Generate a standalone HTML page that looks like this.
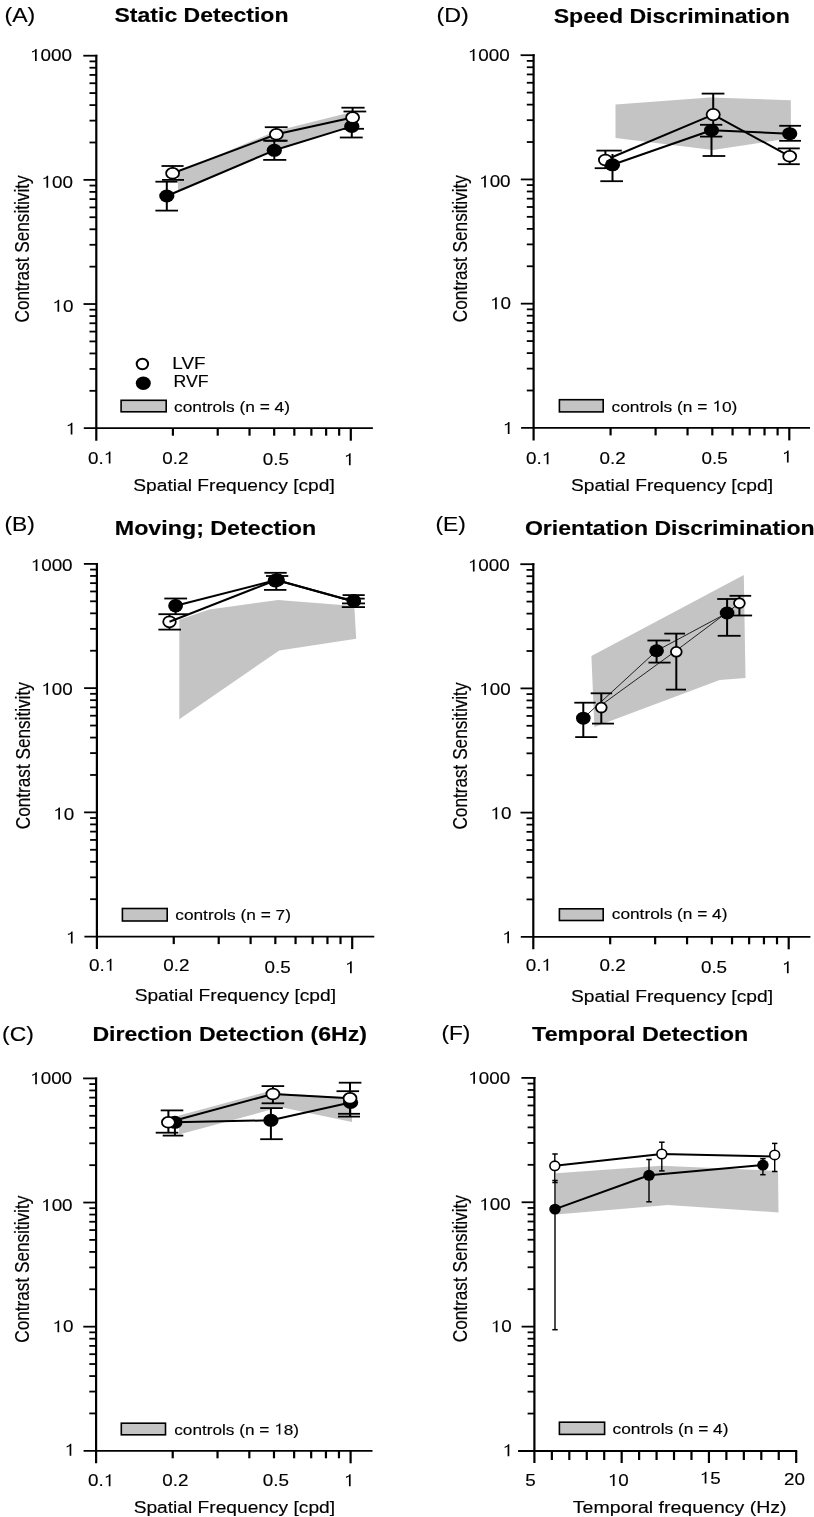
<!DOCTYPE html>
<html><head><meta charset="utf-8"><style>
html,body{margin:0;padding:0;background:#fff;}
svg{display:block;}
text{font-family:"Liberation Sans", sans-serif;fill:#000;stroke:#000;stroke-width:0.15px;}
.h{fill-opacity:0;stroke-opacity:0;}
path{fill:#000;}
svg{filter:grayscale(1);}
</style></head><body>
<svg width="814" height="1517" viewBox="0 0 814 1517">
<rect x="0" y="0" width="814" height="1517" fill="#fff"/>
<text transform="translate(4.456 21.6) scale(1.167 1)" font-size="19.8" font-weight="normal">(A)</text>
<text transform="translate(114.509 22.3) scale(1.163 1)" font-size="19.8" font-weight="bold">Static Detection</text>
<text transform="translate(29 322.424) rotate(-90) scale(1 1.15)" font-size="17.2">Contrast Sensitivity</text>
<text transform="translate(133.336 490.7) scale(1.129 1)" font-size="17" font-weight="normal">Spatial Frequency [cpd]</text>
<rect x="121.1" y="400.3" width="45.1" height="11.5" fill="#c4c4c4" stroke="#000" stroke-width="1.6"/>
<text transform="translate(174.064 411.6) scale(1.125 1)" font-size="15.4" font-weight="normal">controls (n = 4)</text>
<text transform="translate(65.682 434.6) scale(1.13 1)" font-size="16.7" font-weight="normal"><tspan class="h">1</tspan></text>
<path d="M0.356 0 L0.356 0.716 L0.297 0.716 C0.272 0.655 0.205 0.602 0.109 0.577 L0.109 0.497 C0.175 0.512 0.232 0.545 0.266 0.582 L0.266 0 Z" transform="translate(65.682 434.6) scale(18.871 -16.700)"/>
<text transform="translate(52.461 311.733) scale(1.13 1)" font-size="16.7" font-weight="normal"><tspan class="h">1</tspan>0</text>
<path d="M0.356 0 L0.356 0.716 L0.297 0.716 C0.272 0.655 0.205 0.602 0.109 0.577 L0.109 0.497 C0.175 0.512 0.232 0.545 0.266 0.582 L0.266 0 Z" transform="translate(52.461 311.733) scale(18.871 -16.700)"/>
<text transform="translate(41.44 187.667) scale(1.13 1)" font-size="16.7" font-weight="normal"><tspan class="h">1</tspan>00</text>
<path d="M0.356 0 L0.356 0.716 L0.297 0.716 C0.272 0.655 0.205 0.602 0.109 0.577 L0.109 0.497 C0.175 0.512 0.232 0.545 0.266 0.582 L0.266 0 Z" transform="translate(41.44 187.667) scale(18.871 -16.700)"/>
<text transform="translate(29.967 60.9) scale(1.13 1)" font-size="16.7" font-weight="normal"><tspan class="h">1</tspan>000</text>
<path d="M0.356 0 L0.356 0.716 L0.297 0.716 C0.272 0.655 0.205 0.602 0.109 0.577 L0.109 0.497 C0.175 0.512 0.232 0.545 0.266 0.582 L0.266 0 Z" transform="translate(29.967 60.9) scale(18.871 -16.700)"/>
<text transform="translate(87.994 463.5) scale(1.13 1)" font-size="16.7" font-weight="normal">0.<tspan class="h">1</tspan></text>
<path d="M0.356 0 L0.356 0.716 L0.297 0.716 C0.272 0.655 0.205 0.602 0.109 0.577 L0.109 0.497 C0.175 0.512 0.232 0.545 0.266 0.582 L0.266 0 Z" transform="translate(103.733 463.5) scale(18.871 -16.700)"/>
<text transform="translate(162.191 463.5) scale(1.13 1)" font-size="16.7" font-weight="normal">0.2</text>
<text transform="translate(262.873 465.2) scale(1.13 1)" font-size="16.7" font-weight="normal">0.5</text>
<text transform="translate(343.912 465.2) scale(1.13 1)" font-size="16.7" font-weight="normal"><tspan class="h">1</tspan></text>
<path d="M0.356 0 L0.356 0.716 L0.297 0.716 C0.272 0.655 0.205 0.602 0.109 0.577 L0.109 0.497 C0.175 0.512 0.232 0.545 0.266 0.582 L0.266 0 Z" transform="translate(343.912 465.2) scale(18.871 -16.700)"/>
<ellipse cx="142.4" cy="364" rx="5.7" ry="5.3" fill="#fff" stroke="#000" stroke-width="2"/>
<ellipse cx="143.3" cy="383.3" rx="7.5" ry="6.7" fill="#000"/>
<text transform="translate(172.348 368.6) scale(1.154 1)" font-size="16.3" font-weight="normal">LVF</text>
<text transform="translate(173.439 387) scale(1.087 1)" font-size="16.3" font-weight="normal">RVF</text>
<polygon points="178,172 276,131 348,113 350,126 276,149.5 178,191.5" fill="#c4c4c4" stroke="none" stroke-width="0"/>
<polyline points="172.6,173.3 276.4,134.3 352.6,117.6" fill="none" stroke="#000" stroke-width="2" stroke-linejoin="round"/>
<polyline points="166.8,196 274.3,150.3 351.8,126.4" fill="none" stroke="#000" stroke-width="2" stroke-linejoin="round"/>
<line x1="172.6" y1="166" x2="172.6" y2="179.9" stroke="#000" stroke-width="2"/>
<line x1="161.5" y1="166" x2="183.6" y2="166" stroke="#000" stroke-width="1.8"/>
<line x1="162" y1="179.9" x2="184" y2="179.9" stroke="#000" stroke-width="1.8"/>
<line x1="166.8" y1="181.7" x2="166.8" y2="210.6" stroke="#000" stroke-width="2"/>
<line x1="155.4" y1="181.7" x2="177.5" y2="181.7" stroke="#000" stroke-width="1.8"/>
<line x1="155.4" y1="210.6" x2="178" y2="210.6" stroke="#000" stroke-width="1.8"/>
<line x1="276.3" y1="127.2" x2="276.3" y2="140.7" stroke="#000" stroke-width="2"/>
<line x1="264.8" y1="127.2" x2="287.6" y2="127.2" stroke="#000" stroke-width="1.8"/>
<line x1="264.8" y1="140.7" x2="287.6" y2="140.7" stroke="#000" stroke-width="1.8"/>
<line x1="274.3" y1="140.7" x2="274.3" y2="159.9" stroke="#000" stroke-width="2"/>
<line x1="263.2" y1="140.7" x2="286.3" y2="140.7" stroke="#000" stroke-width="1.8"/>
<line x1="263.2" y1="159.9" x2="286.3" y2="159.9" stroke="#000" stroke-width="1.8"/>
<line x1="352.6" y1="107.7" x2="352.6" y2="128.8" stroke="#000" stroke-width="2"/>
<line x1="341.4" y1="107.7" x2="364.6" y2="107.7" stroke="#000" stroke-width="1.8"/>
<line x1="344" y1="128.8" x2="364" y2="128.8" stroke="#000" stroke-width="1.8"/>
<line x1="351.8" y1="111.5" x2="351.8" y2="137.5" stroke="#000" stroke-width="2"/>
<line x1="343.5" y1="111.5" x2="366.2" y2="111.5" stroke="#000" stroke-width="1.8"/>
<line x1="339.8" y1="137.5" x2="362.7" y2="137.5" stroke="#000" stroke-width="1.8"/>
<ellipse cx="166.8" cy="196" rx="7.6" ry="6.5" fill="#000"/>
<ellipse cx="274.3" cy="150.3" rx="7.6" ry="6.5" fill="#000"/>
<ellipse cx="351.8" cy="126.4" rx="7.6" ry="6.5" fill="#000"/>
<ellipse cx="172.6" cy="173.3" rx="6.5" ry="5.4" fill="#fff" stroke="#000" stroke-width="1.8"/>
<ellipse cx="276.4" cy="134.3" rx="6.5" ry="5.4" fill="#fff" stroke="#000" stroke-width="1.8"/>
<ellipse cx="352.6" cy="117.6" rx="6.5" ry="5.4" fill="#fff" stroke="#000" stroke-width="1.8"/>
<line x1="96.3" y1="54.8" x2="96.3" y2="440.7" stroke="#000" stroke-width="2.2"/>
<line x1="89.5" y1="390.822" x2="96.3" y2="390.822" stroke="#000" stroke-width="1.8"/>
<line x1="89.5" y1="368.957" x2="96.3" y2="368.957" stroke="#000" stroke-width="1.8"/>
<line x1="89.5" y1="353.444" x2="96.3" y2="353.444" stroke="#000" stroke-width="1.8"/>
<line x1="89.5" y1="341.411" x2="96.3" y2="341.411" stroke="#000" stroke-width="1.8"/>
<line x1="89.5" y1="331.58" x2="96.3" y2="331.58" stroke="#000" stroke-width="1.8"/>
<line x1="89.5" y1="323.267" x2="96.3" y2="323.267" stroke="#000" stroke-width="1.8"/>
<line x1="89.5" y1="316.066" x2="96.3" y2="316.066" stroke="#000" stroke-width="1.8"/>
<line x1="89.5" y1="309.715" x2="96.3" y2="309.715" stroke="#000" stroke-width="1.8"/>
<line x1="83.5" y1="304.033" x2="96.3" y2="304.033" stroke="#000" stroke-width="1.8"/>
<line x1="89.5" y1="266.655" x2="96.3" y2="266.655" stroke="#000" stroke-width="1.8"/>
<line x1="89.5" y1="244.791" x2="96.3" y2="244.791" stroke="#000" stroke-width="1.8"/>
<line x1="89.5" y1="229.278" x2="96.3" y2="229.278" stroke="#000" stroke-width="1.8"/>
<line x1="89.5" y1="217.245" x2="96.3" y2="217.245" stroke="#000" stroke-width="1.8"/>
<line x1="89.5" y1="207.413" x2="96.3" y2="207.413" stroke="#000" stroke-width="1.8"/>
<line x1="89.5" y1="199.1" x2="96.3" y2="199.1" stroke="#000" stroke-width="1.8"/>
<line x1="89.5" y1="191.9" x2="96.3" y2="191.9" stroke="#000" stroke-width="1.8"/>
<line x1="89.5" y1="185.548" x2="96.3" y2="185.548" stroke="#000" stroke-width="1.8"/>
<line x1="83.5" y1="179.867" x2="96.3" y2="179.867" stroke="#000" stroke-width="1.8"/>
<line x1="89.5" y1="142.489" x2="96.3" y2="142.489" stroke="#000" stroke-width="1.8"/>
<line x1="89.5" y1="120.624" x2="96.3" y2="120.624" stroke="#000" stroke-width="1.8"/>
<line x1="89.5" y1="105.111" x2="96.3" y2="105.111" stroke="#000" stroke-width="1.8"/>
<line x1="89.5" y1="93.078" x2="96.3" y2="93.078" stroke="#000" stroke-width="1.8"/>
<line x1="89.5" y1="83.246" x2="96.3" y2="83.246" stroke="#000" stroke-width="1.8"/>
<line x1="89.5" y1="74.934" x2="96.3" y2="74.934" stroke="#000" stroke-width="1.8"/>
<line x1="89.5" y1="67.733" x2="96.3" y2="67.733" stroke="#000" stroke-width="1.8"/>
<line x1="89.5" y1="61.382" x2="96.3" y2="61.382" stroke="#000" stroke-width="1.8"/>
<line x1="83.3" y1="55.7" x2="97.3" y2="55.7" stroke="#000" stroke-width="1.8"/>
<line x1="83.8" y1="428.2" x2="372.9" y2="428.2" stroke="#000" stroke-width="1.8"/>
<line x1="172.912" y1="428.2" x2="172.912" y2="435.7" stroke="#000" stroke-width="2.2"/>
<line x1="217.727" y1="428.2" x2="217.727" y2="435.7" stroke="#000" stroke-width="2.2"/>
<line x1="249.524" y1="428.2" x2="249.524" y2="435.7" stroke="#000" stroke-width="2.2"/>
<line x1="274.188" y1="428.2" x2="274.188" y2="435.7" stroke="#000" stroke-width="2.2"/>
<line x1="294.339" y1="428.2" x2="294.339" y2="435.7" stroke="#000" stroke-width="2.2"/>
<line x1="311.377" y1="428.2" x2="311.377" y2="435.7" stroke="#000" stroke-width="2.2"/>
<line x1="326.136" y1="428.2" x2="326.136" y2="435.7" stroke="#000" stroke-width="2.2"/>
<line x1="339.155" y1="428.2" x2="339.155" y2="435.7" stroke="#000" stroke-width="2.2"/>
<line x1="350.8" y1="428.2" x2="350.8" y2="440.7" stroke="#000" stroke-width="2.2"/>
<text transform="translate(4.477 531.2) scale(1.15 1)" font-size="19.8" font-weight="normal">(B)</text>
<text transform="translate(114.831 535.2) scale(1.174 1)" font-size="19.8" font-weight="bold">Moving; Detection</text>
<text transform="translate(29.5 829.274) rotate(-90) scale(1 1.15)" font-size="17.2">Contrast Sensitivity</text>
<text transform="translate(134.637 1001.4) scale(1.128 1)" font-size="17" font-weight="normal">Spatial Frequency [cpd]</text>
<rect x="122.4" y="908.5" width="44.8" height="12.5" fill="#c4c4c4" stroke="#000" stroke-width="1.6"/>
<text transform="translate(175.265 919.6) scale(1.123 1)" font-size="15.4" font-weight="normal">controls (n = 7)</text>
<text transform="translate(65.882 943.4) scale(1.13 1)" font-size="16.7" font-weight="normal"><tspan class="h">1</tspan></text>
<path d="M0.356 0 L0.356 0.716 L0.297 0.716 C0.272 0.655 0.205 0.602 0.109 0.577 L0.109 0.497 C0.175 0.512 0.232 0.545 0.266 0.582 L0.266 0 Z" transform="translate(65.882 943.4) scale(18.871 -16.700)"/>
<text transform="translate(53.261 819.567) scale(1.13 1)" font-size="16.7" font-weight="normal"><tspan class="h">1</tspan>0</text>
<path d="M0.356 0 L0.356 0.716 L0.297 0.716 C0.272 0.655 0.205 0.602 0.109 0.577 L0.109 0.497 C0.175 0.512 0.232 0.545 0.266 0.582 L0.266 0 Z" transform="translate(53.261 819.567) scale(18.871 -16.700)"/>
<text transform="translate(41.34 694.733) scale(1.13 1)" font-size="16.7" font-weight="normal"><tspan class="h">1</tspan>00</text>
<path d="M0.356 0 L0.356 0.716 L0.297 0.716 C0.272 0.655 0.205 0.602 0.109 0.577 L0.109 0.497 C0.175 0.512 0.232 0.545 0.266 0.582 L0.266 0 Z" transform="translate(41.34 694.733) scale(18.871 -16.700)"/>
<text transform="translate(30.667 571.1) scale(1.13 1)" font-size="16.7" font-weight="normal"><tspan class="h">1</tspan>000</text>
<path d="M0.356 0 L0.356 0.716 L0.297 0.716 C0.272 0.655 0.205 0.602 0.109 0.577 L0.109 0.497 C0.175 0.512 0.232 0.545 0.266 0.582 L0.266 0 Z" transform="translate(30.667 571.1) scale(18.871 -16.700)"/>
<text transform="translate(88.994 970.8) scale(1.13 1)" font-size="16.7" font-weight="normal">0.<tspan class="h">1</tspan></text>
<path d="M0.356 0 L0.356 0.716 L0.297 0.716 C0.272 0.655 0.205 0.602 0.109 0.577 L0.109 0.497 C0.175 0.512 0.232 0.545 0.266 0.582 L0.266 0 Z" transform="translate(104.733 970.8) scale(18.871 -16.700)"/>
<text transform="translate(163.332 970.8) scale(1.13 1)" font-size="16.7" font-weight="normal">0.2</text>
<text transform="translate(264.432 973.2) scale(1.13 1)" font-size="16.7" font-weight="normal">0.5</text>
<text transform="translate(345.012 973.2) scale(1.13 1)" font-size="16.7" font-weight="normal"><tspan class="h">1</tspan></text>
<path d="M0.356 0 L0.356 0.716 L0.297 0.716 C0.272 0.655 0.205 0.602 0.109 0.577 L0.109 0.497 C0.175 0.512 0.232 0.545 0.266 0.582 L0.266 0 Z" transform="translate(345.012 973.2) scale(18.871 -16.700)"/>
<polygon points="179.3,619.7 209.3,609.4 278.1,600 354.3,606 356.2,638.8 279.3,650.4 179.3,719.2" fill="#c4c4c4" stroke="none" stroke-width="0"/>
<polyline points="175.6,605.7 276.3,580 353,601.2" fill="none" stroke="#000" stroke-width="2" stroke-linejoin="round"/>
<line x1="175.6" y1="598.5" x2="175.6" y2="614.2" stroke="#000" stroke-width="2"/>
<line x1="164.3" y1="598.5" x2="187.1" y2="598.5" stroke="#000" stroke-width="1.8"/>
<line x1="158.4" y1="614.2" x2="187.8" y2="614.2" stroke="#000" stroke-width="1.8"/>
<line x1="169.5" y1="614.2" x2="169.5" y2="629.6" stroke="#000" stroke-width="2"/>
<line x1="158.4" y1="629.6" x2="181" y2="629.6" stroke="#000" stroke-width="1.8"/>
<line x1="276.3" y1="572.8" x2="276.3" y2="589.9" stroke="#000" stroke-width="2"/>
<line x1="264.4" y1="572.8" x2="286.7" y2="572.8" stroke="#000" stroke-width="1.8"/>
<line x1="266" y1="576" x2="288.3" y2="576" stroke="#000" stroke-width="1.8"/>
<line x1="264" y1="589.9" x2="286.4" y2="589.9" stroke="#000" stroke-width="1.8"/>
<line x1="353" y1="595.1" x2="353" y2="607.1" stroke="#000" stroke-width="2"/>
<line x1="342.6" y1="595.1" x2="364.7" y2="595.1" stroke="#000" stroke-width="1.8"/>
<line x1="342.6" y1="598.6" x2="364.7" y2="598.6" stroke="#000" stroke-width="1.8"/>
<line x1="342" y1="603.4" x2="365" y2="603.4" stroke="#000" stroke-width="1.8"/>
<line x1="341.8" y1="607.1" x2="365" y2="607.1" stroke="#000" stroke-width="1.8"/>
<ellipse cx="175.6" cy="605.7" rx="7.4" ry="6.7" fill="#000"/>
<ellipse cx="169.5" cy="621.8" rx="6.3" ry="5.5" fill="#fff" stroke="#000" stroke-width="1.8"/>
<ellipse cx="275.2" cy="580.6" rx="7.5" ry="6.8" fill="#000"/>
<ellipse cx="277.4" cy="580" rx="7.5" ry="6.8" fill="#000"/>
<ellipse cx="353.8" cy="600.9" rx="7.3" ry="6.8" fill="#000"/>
<polyline points="169.5,621.8 276.3,580 353,601.2" fill="none" stroke="#000" stroke-width="2" stroke-linejoin="round"/>
<line x1="96.9" y1="563" x2="96.9" y2="949.1" stroke="#000" stroke-width="2.2"/>
<line x1="90.1" y1="899.202" x2="96.9" y2="899.202" stroke="#000" stroke-width="1.8"/>
<line x1="90.1" y1="877.326" x2="96.9" y2="877.326" stroke="#000" stroke-width="1.8"/>
<line x1="90.1" y1="861.804" x2="96.9" y2="861.804" stroke="#000" stroke-width="1.8"/>
<line x1="90.1" y1="849.765" x2="96.9" y2="849.765" stroke="#000" stroke-width="1.8"/>
<line x1="90.1" y1="839.928" x2="96.9" y2="839.928" stroke="#000" stroke-width="1.8"/>
<line x1="90.1" y1="831.611" x2="96.9" y2="831.611" stroke="#000" stroke-width="1.8"/>
<line x1="90.1" y1="824.406" x2="96.9" y2="824.406" stroke="#000" stroke-width="1.8"/>
<line x1="90.1" y1="818.051" x2="96.9" y2="818.051" stroke="#000" stroke-width="1.8"/>
<line x1="84.1" y1="812.367" x2="96.9" y2="812.367" stroke="#000" stroke-width="1.8"/>
<line x1="90.1" y1="774.969" x2="96.9" y2="774.969" stroke="#000" stroke-width="1.8"/>
<line x1="90.1" y1="753.092" x2="96.9" y2="753.092" stroke="#000" stroke-width="1.8"/>
<line x1="90.1" y1="737.571" x2="96.9" y2="737.571" stroke="#000" stroke-width="1.8"/>
<line x1="90.1" y1="725.531" x2="96.9" y2="725.531" stroke="#000" stroke-width="1.8"/>
<line x1="90.1" y1="715.694" x2="96.9" y2="715.694" stroke="#000" stroke-width="1.8"/>
<line x1="90.1" y1="707.377" x2="96.9" y2="707.377" stroke="#000" stroke-width="1.8"/>
<line x1="90.1" y1="700.173" x2="96.9" y2="700.173" stroke="#000" stroke-width="1.8"/>
<line x1="90.1" y1="693.818" x2="96.9" y2="693.818" stroke="#000" stroke-width="1.8"/>
<line x1="84.1" y1="688.133" x2="96.9" y2="688.133" stroke="#000" stroke-width="1.8"/>
<line x1="90.1" y1="650.735" x2="96.9" y2="650.735" stroke="#000" stroke-width="1.8"/>
<line x1="90.1" y1="628.859" x2="96.9" y2="628.859" stroke="#000" stroke-width="1.8"/>
<line x1="90.1" y1="613.337" x2="96.9" y2="613.337" stroke="#000" stroke-width="1.8"/>
<line x1="90.1" y1="601.298" x2="96.9" y2="601.298" stroke="#000" stroke-width="1.8"/>
<line x1="90.1" y1="591.461" x2="96.9" y2="591.461" stroke="#000" stroke-width="1.8"/>
<line x1="90.1" y1="583.144" x2="96.9" y2="583.144" stroke="#000" stroke-width="1.8"/>
<line x1="90.1" y1="575.939" x2="96.9" y2="575.939" stroke="#000" stroke-width="1.8"/>
<line x1="90.1" y1="569.585" x2="96.9" y2="569.585" stroke="#000" stroke-width="1.8"/>
<line x1="83.9" y1="563.9" x2="97.9" y2="563.9" stroke="#000" stroke-width="1.8"/>
<line x1="84.4" y1="936.6" x2="374.3" y2="936.6" stroke="#000" stroke-width="1.8"/>
<line x1="173.753" y1="936.6" x2="173.753" y2="944.1" stroke="#000" stroke-width="2.2"/>
<line x1="218.709" y1="936.6" x2="218.709" y2="944.1" stroke="#000" stroke-width="2.2"/>
<line x1="250.606" y1="936.6" x2="250.606" y2="944.1" stroke="#000" stroke-width="2.2"/>
<line x1="275.347" y1="936.6" x2="275.347" y2="944.1" stroke="#000" stroke-width="2.2"/>
<line x1="295.562" y1="936.6" x2="295.562" y2="944.1" stroke="#000" stroke-width="2.2"/>
<line x1="312.654" y1="936.6" x2="312.654" y2="944.1" stroke="#000" stroke-width="2.2"/>
<line x1="327.459" y1="936.6" x2="327.459" y2="944.1" stroke="#000" stroke-width="2.2"/>
<line x1="340.518" y1="936.6" x2="340.518" y2="944.1" stroke="#000" stroke-width="2.2"/>
<line x1="352.2" y1="936.6" x2="352.2" y2="949.1" stroke="#000" stroke-width="2.2"/>
<text transform="translate(2.069 1041.2) scale(1.156 1)" font-size="19.8" font-weight="normal">(C)</text>
<text transform="translate(92.442 1041.2) scale(1.166 1)" font-size="19.8" font-weight="bold">Direction Detection (6Hz)</text>
<text transform="translate(29 1342.774) rotate(-90) scale(1 1.15)" font-size="17.2">Contrast Sensitivity</text>
<text transform="translate(133.636 1512.6) scale(1.129 1)" font-size="17" font-weight="normal">Spatial Frequency [cpd]</text>
<rect x="121.3" y="1423.2" width="44.2" height="11.6" fill="#c4c4c4" stroke="#000" stroke-width="1.6"/>
<text transform="translate(174.269 1434.5) scale(1.117 1)" font-size="15.4" font-weight="normal">controls (n = <tspan class="h">1</tspan>8)</text>
<path d="M0.356 0 L0.356 0.716 L0.297 0.716 C0.272 0.655 0.205 0.602 0.109 0.577 L0.109 0.497 C0.175 0.512 0.232 0.545 0.266 0.582 L0.266 0 Z" transform="translate(274.222 1434.5) scale(17.209 -15.400)"/>
<text transform="translate(64.582 1455.8) scale(1.13 1)" font-size="16.7" font-weight="normal"><tspan class="h">1</tspan></text>
<path d="M0.356 0 L0.356 0.716 L0.297 0.716 C0.272 0.655 0.205 0.602 0.109 0.577 L0.109 0.497 C0.175 0.512 0.232 0.545 0.266 0.582 L0.266 0 Z" transform="translate(64.582 1455.8) scale(18.871 -16.700)"/>
<text transform="translate(52.461 1332.367) scale(1.13 1)" font-size="16.7" font-weight="normal"><tspan class="h">1</tspan>0</text>
<path d="M0.356 0 L0.356 0.716 L0.297 0.716 C0.272 0.655 0.205 0.602 0.109 0.577 L0.109 0.497 C0.175 0.512 0.232 0.545 0.266 0.582 L0.266 0 Z" transform="translate(52.461 1332.367) scale(18.871 -16.700)"/>
<text transform="translate(41.14 1211.033) scale(1.13 1)" font-size="16.7" font-weight="normal"><tspan class="h">1</tspan>00</text>
<path d="M0.356 0 L0.356 0.716 L0.297 0.716 C0.272 0.655 0.205 0.602 0.109 0.577 L0.109 0.497 C0.175 0.512 0.232 0.545 0.266 0.582 L0.266 0 Z" transform="translate(41.14 1211.033) scale(18.871 -16.700)"/>
<text transform="translate(30.167 1084.2) scale(1.13 1)" font-size="16.7" font-weight="normal"><tspan class="h">1</tspan>000</text>
<path d="M0.356 0 L0.356 0.716 L0.297 0.716 C0.272 0.655 0.205 0.602 0.109 0.577 L0.109 0.497 C0.175 0.512 0.232 0.545 0.266 0.582 L0.266 0 Z" transform="translate(30.167 1084.2) scale(18.871 -16.700)"/>
<text transform="translate(87.994 1486.2) scale(1.13 1)" font-size="16.7" font-weight="normal">0.<tspan class="h">1</tspan></text>
<path d="M0.356 0 L0.356 0.716 L0.297 0.716 C0.272 0.655 0.205 0.602 0.109 0.577 L0.109 0.497 C0.175 0.512 0.232 0.545 0.266 0.582 L0.266 0 Z" transform="translate(103.733 1486.2) scale(18.871 -16.700)"/>
<text transform="translate(162.191 1486.2) scale(1.13 1)" font-size="16.7" font-weight="normal">0.2</text>
<text transform="translate(262.873 1486.2) scale(1.13 1)" font-size="16.7" font-weight="normal">0.5</text>
<text transform="translate(343.912 1486.2) scale(1.13 1)" font-size="16.7" font-weight="normal"><tspan class="h">1</tspan></text>
<path d="M0.356 0 L0.356 0.716 L0.297 0.716 C0.272 0.655 0.205 0.602 0.109 0.577 L0.109 0.497 C0.175 0.512 0.232 0.545 0.266 0.582 L0.266 0 Z" transform="translate(343.912 1486.2) scale(18.871 -16.700)"/>
<polygon points="179,1115.5 268,1091.5 273,1093 350,1097.5 352,1097.5 352,1122 280,1107 262,1112 179,1134.5" fill="#c4c4c4" stroke="none" stroke-width="0"/>
<polyline points="168.4,1122.3 272.9,1094 350,1098.3" fill="none" stroke="#000" stroke-width="2" stroke-linejoin="round"/>
<polyline points="174.9,1122.3 270.9,1120.3 350.6,1102.5" fill="none" stroke="#000" stroke-width="2" stroke-linejoin="round"/>
<line x1="168.4" y1="1110.4" x2="168.4" y2="1132.7" stroke="#000" stroke-width="2"/>
<line x1="160.7" y1="1110.4" x2="183.3" y2="1110.4" stroke="#000" stroke-width="1.8"/>
<line x1="155.7" y1="1132.7" x2="178.3" y2="1132.7" stroke="#000" stroke-width="1.8"/>
<line x1="174.9" y1="1122" x2="174.9" y2="1135.6" stroke="#000" stroke-width="2"/>
<line x1="162.7" y1="1135.6" x2="183.3" y2="1135.6" stroke="#000" stroke-width="1.8"/>
<line x1="272.9" y1="1086.1" x2="272.9" y2="1103.3" stroke="#000" stroke-width="2"/>
<line x1="261.6" y1="1086.1" x2="284.2" y2="1086.1" stroke="#000" stroke-width="1.8"/>
<line x1="261.6" y1="1103.3" x2="284.2" y2="1103.3" stroke="#000" stroke-width="1.8"/>
<line x1="270.9" y1="1108.1" x2="270.9" y2="1139.2" stroke="#000" stroke-width="2"/>
<line x1="260.2" y1="1108.1" x2="282.8" y2="1108.1" stroke="#000" stroke-width="1.8"/>
<line x1="260.2" y1="1139.2" x2="282.8" y2="1139.2" stroke="#000" stroke-width="1.8"/>
<line x1="350" y1="1082.7" x2="350" y2="1116.6" stroke="#000" stroke-width="2"/>
<line x1="338.8" y1="1082.7" x2="361.4" y2="1082.7" stroke="#000" stroke-width="1.8"/>
<line x1="336.5" y1="1091.2" x2="359.1" y2="1091.2" stroke="#000" stroke-width="1.8"/>
<line x1="338" y1="1113.8" x2="360" y2="1113.8" stroke="#000" stroke-width="1.8"/>
<line x1="338" y1="1116.6" x2="360" y2="1116.6" stroke="#000" stroke-width="1.8"/>
<ellipse cx="174.9" cy="1122.3" rx="7.6" ry="6.5" fill="#000"/>
<ellipse cx="270.9" cy="1120.3" rx="7.6" ry="6.5" fill="#000"/>
<ellipse cx="350.6" cy="1102.5" rx="7.6" ry="6.5" fill="#000"/>
<ellipse cx="168.4" cy="1122.3" rx="6.5" ry="5.4" fill="#fff" stroke="#000" stroke-width="1.8"/>
<ellipse cx="272.9" cy="1094" rx="6.5" ry="5.4" fill="#fff" stroke="#000" stroke-width="1.8"/>
<ellipse cx="350" cy="1098.3" rx="6.5" ry="5.4" fill="#fff" stroke="#000" stroke-width="1.8"/>
<line x1="96.1" y1="1077.5" x2="96.1" y2="1463.3" stroke="#000" stroke-width="2.2"/>
<line x1="89.3" y1="1413.432" x2="96.1" y2="1413.432" stroke="#000" stroke-width="1.8"/>
<line x1="89.3" y1="1391.573" x2="96.1" y2="1391.573" stroke="#000" stroke-width="1.8"/>
<line x1="89.3" y1="1376.064" x2="96.1" y2="1376.064" stroke="#000" stroke-width="1.8"/>
<line x1="89.3" y1="1364.035" x2="96.1" y2="1364.035" stroke="#000" stroke-width="1.8"/>
<line x1="89.3" y1="1354.205" x2="96.1" y2="1354.205" stroke="#000" stroke-width="1.8"/>
<line x1="89.3" y1="1345.895" x2="96.1" y2="1345.895" stroke="#000" stroke-width="1.8"/>
<line x1="89.3" y1="1338.696" x2="96.1" y2="1338.696" stroke="#000" stroke-width="1.8"/>
<line x1="89.3" y1="1332.347" x2="96.1" y2="1332.347" stroke="#000" stroke-width="1.8"/>
<line x1="83.3" y1="1326.667" x2="96.1" y2="1326.667" stroke="#000" stroke-width="1.8"/>
<line x1="89.3" y1="1289.299" x2="96.1" y2="1289.299" stroke="#000" stroke-width="1.8"/>
<line x1="89.3" y1="1267.44" x2="96.1" y2="1267.44" stroke="#000" stroke-width="1.8"/>
<line x1="89.3" y1="1251.931" x2="96.1" y2="1251.931" stroke="#000" stroke-width="1.8"/>
<line x1="89.3" y1="1239.901" x2="96.1" y2="1239.901" stroke="#000" stroke-width="1.8"/>
<line x1="89.3" y1="1230.072" x2="96.1" y2="1230.072" stroke="#000" stroke-width="1.8"/>
<line x1="89.3" y1="1221.762" x2="96.1" y2="1221.762" stroke="#000" stroke-width="1.8"/>
<line x1="89.3" y1="1214.563" x2="96.1" y2="1214.563" stroke="#000" stroke-width="1.8"/>
<line x1="89.3" y1="1208.213" x2="96.1" y2="1208.213" stroke="#000" stroke-width="1.8"/>
<line x1="83.3" y1="1202.533" x2="96.1" y2="1202.533" stroke="#000" stroke-width="1.8"/>
<line x1="89.3" y1="1165.165" x2="96.1" y2="1165.165" stroke="#000" stroke-width="1.8"/>
<line x1="89.3" y1="1143.307" x2="96.1" y2="1143.307" stroke="#000" stroke-width="1.8"/>
<line x1="89.3" y1="1127.798" x2="96.1" y2="1127.798" stroke="#000" stroke-width="1.8"/>
<line x1="89.3" y1="1115.768" x2="96.1" y2="1115.768" stroke="#000" stroke-width="1.8"/>
<line x1="89.3" y1="1105.939" x2="96.1" y2="1105.939" stroke="#000" stroke-width="1.8"/>
<line x1="89.3" y1="1097.628" x2="96.1" y2="1097.628" stroke="#000" stroke-width="1.8"/>
<line x1="89.3" y1="1090.43" x2="96.1" y2="1090.43" stroke="#000" stroke-width="1.8"/>
<line x1="89.3" y1="1084.08" x2="96.1" y2="1084.08" stroke="#000" stroke-width="1.8"/>
<line x1="83.1" y1="1078.4" x2="97.1" y2="1078.4" stroke="#000" stroke-width="1.8"/>
<line x1="83.6" y1="1450.8" x2="372.5" y2="1450.8" stroke="#000" stroke-width="1.8"/>
<line x1="172.712" y1="1450.8" x2="172.712" y2="1458.3" stroke="#000" stroke-width="2.2"/>
<line x1="217.527" y1="1450.8" x2="217.527" y2="1458.3" stroke="#000" stroke-width="2.2"/>
<line x1="249.324" y1="1450.8" x2="249.324" y2="1458.3" stroke="#000" stroke-width="2.2"/>
<line x1="273.988" y1="1450.8" x2="273.988" y2="1458.3" stroke="#000" stroke-width="2.2"/>
<line x1="294.139" y1="1450.8" x2="294.139" y2="1458.3" stroke="#000" stroke-width="2.2"/>
<line x1="311.177" y1="1450.8" x2="311.177" y2="1458.3" stroke="#000" stroke-width="2.2"/>
<line x1="325.936" y1="1450.8" x2="325.936" y2="1458.3" stroke="#000" stroke-width="2.2"/>
<line x1="338.955" y1="1450.8" x2="338.955" y2="1458.3" stroke="#000" stroke-width="2.2"/>
<line x1="350.6" y1="1450.8" x2="350.6" y2="1463.3" stroke="#000" stroke-width="2.2"/>
<text transform="translate(436.445 21.6) scale(1.176 1)" font-size="19.8" font-weight="normal">(D)</text>
<text transform="translate(553.707 23) scale(1.167 1)" font-size="19.8" font-weight="bold">Speed Discrimination</text>
<text transform="translate(467 322.125) rotate(-90) scale(1 1.15)" font-size="17.2">Contrast Sensitivity</text>
<text transform="translate(571.034 490.8) scale(1.132 1)" font-size="17" font-weight="normal">Spatial Frequency [cpd]</text>
<rect x="559.4" y="399.7" width="43.8" height="12.2" fill="#c4c4c4" stroke="#000" stroke-width="1.6"/>
<text transform="translate(611.562 411.6) scale(1.127 1)" font-size="15.4" font-weight="normal">controls (n = <tspan class="h">1</tspan>0)</text>
<path d="M0.356 0 L0.356 0.716 L0.297 0.716 C0.272 0.655 0.205 0.602 0.109 0.577 L0.109 0.497 C0.175 0.512 0.232 0.545 0.266 0.582 L0.266 0 Z" transform="translate(712.41 411.6) scale(17.363 -15.400)"/>
<text transform="translate(502.782 433.9) scale(1.13 1)" font-size="16.7" font-weight="normal"><tspan class="h">1</tspan></text>
<path d="M0.356 0 L0.356 0.716 L0.297 0.716 C0.272 0.655 0.205 0.602 0.109 0.577 L0.109 0.497 C0.175 0.512 0.232 0.545 0.266 0.582 L0.266 0 Z" transform="translate(502.782 433.9) scale(18.871 -16.700)"/>
<text transform="translate(490.061 309.167) scale(1.13 1)" font-size="16.7" font-weight="normal"><tspan class="h">1</tspan>0</text>
<path d="M0.356 0 L0.356 0.716 L0.297 0.716 C0.272 0.655 0.205 0.602 0.109 0.577 L0.109 0.497 C0.175 0.512 0.232 0.545 0.266 0.582 L0.266 0 Z" transform="translate(490.061 309.167) scale(18.871 -16.700)"/>
<text transform="translate(479.14 187.433) scale(1.13 1)" font-size="16.7" font-weight="normal"><tspan class="h">1</tspan>00</text>
<path d="M0.356 0 L0.356 0.716 L0.297 0.716 C0.272 0.655 0.205 0.602 0.109 0.577 L0.109 0.497 C0.175 0.512 0.232 0.545 0.266 0.582 L0.266 0 Z" transform="translate(479.14 187.433) scale(18.871 -16.700)"/>
<text transform="translate(467.767 60.9) scale(1.13 1)" font-size="16.7" font-weight="normal"><tspan class="h">1</tspan>000</text>
<path d="M0.356 0 L0.356 0.716 L0.297 0.716 C0.272 0.655 0.205 0.602 0.109 0.577 L0.109 0.497 C0.175 0.512 0.232 0.545 0.266 0.582 L0.266 0 Z" transform="translate(467.767 60.9) scale(18.871 -16.700)"/>
<text transform="translate(525.994 464.2) scale(1.13 1)" font-size="16.7" font-weight="normal">0.<tspan class="h">1</tspan></text>
<path d="M0.356 0 L0.356 0.716 L0.297 0.716 C0.272 0.655 0.205 0.602 0.109 0.577 L0.109 0.497 C0.175 0.512 0.232 0.545 0.266 0.582 L0.266 0 Z" transform="translate(541.733 464.2) scale(18.871 -16.700)"/>
<text transform="translate(599.552 464.2) scale(1.13 1)" font-size="16.7" font-weight="normal">0.2</text>
<text transform="translate(701.511 463.5) scale(1.13 1)" font-size="16.7" font-weight="normal">0.5</text>
<text transform="translate(781.912 462.5) scale(1.13 1)" font-size="16.7" font-weight="normal"><tspan class="h">1</tspan></text>
<path d="M0.356 0 L0.356 0.716 L0.297 0.716 C0.272 0.655 0.205 0.602 0.109 0.577 L0.109 0.497 C0.175 0.512 0.232 0.545 0.266 0.582 L0.266 0 Z" transform="translate(781.912 462.5) scale(18.871 -16.700)"/>
<polygon points="615.5,104.5 710,97.5 790.8,100.3 791,138 712.8,150 615.5,138" fill="#c4c4c4" stroke="none" stroke-width="0"/>
<polyline points="605.4,160 713.2,114.6 789.7,156.3" fill="none" stroke="#000" stroke-width="2" stroke-linejoin="round"/>
<polyline points="612.5,164.8 711.5,130.3 789.7,133.7" fill="none" stroke="#000" stroke-width="2" stroke-linejoin="round"/>
<line x1="605.4" y1="150.6" x2="605.4" y2="168.2" stroke="#000" stroke-width="2"/>
<line x1="596.4" y1="150.6" x2="621.8" y2="150.6" stroke="#000" stroke-width="1.8"/>
<line x1="594.7" y1="168.2" x2="616.7" y2="168.2" stroke="#000" stroke-width="1.8"/>
<line x1="612.5" y1="154" x2="612.5" y2="181.2" stroke="#000" stroke-width="2"/>
<line x1="600.3" y1="181.2" x2="623" y2="181.2" stroke="#000" stroke-width="1.8"/>
<line x1="713.2" y1="93.6" x2="713.2" y2="136.6" stroke="#000" stroke-width="2"/>
<line x1="701.7" y1="93.6" x2="724.4" y2="93.6" stroke="#000" stroke-width="1.8"/>
<line x1="700" y1="136.6" x2="722.3" y2="136.6" stroke="#000" stroke-width="1.8"/>
<line x1="711.5" y1="124.8" x2="711.5" y2="156" stroke="#000" stroke-width="2"/>
<line x1="700" y1="124.8" x2="722.3" y2="124.8" stroke="#000" stroke-width="1.8"/>
<line x1="702.6" y1="156" x2="725.3" y2="156" stroke="#000" stroke-width="1.8"/>
<line x1="789.7" y1="125.8" x2="789.7" y2="140.8" stroke="#000" stroke-width="2"/>
<line x1="779.2" y1="125.8" x2="801" y2="125.8" stroke="#000" stroke-width="1.8"/>
<line x1="779.2" y1="140.8" x2="801" y2="140.8" stroke="#000" stroke-width="1.8"/>
<line x1="789.7" y1="148.4" x2="789.7" y2="164.2" stroke="#000" stroke-width="2"/>
<line x1="777.8" y1="148.4" x2="799.8" y2="148.4" stroke="#000" stroke-width="1.8"/>
<line x1="777.8" y1="164.2" x2="799.8" y2="164.2" stroke="#000" stroke-width="1.8"/>
<ellipse cx="605.4" cy="160" rx="6.5" ry="5.4" fill="#fff" stroke="#000" stroke-width="1.8"/>
<ellipse cx="612.5" cy="164.8" rx="7.6" ry="6.5" fill="#000"/>
<ellipse cx="713.2" cy="114.6" rx="6.6" ry="5.7" fill="#fff" stroke="#000" stroke-width="1.8"/>
<ellipse cx="711.5" cy="130.3" rx="7.5" ry="6.3" fill="#000"/>
<ellipse cx="789.7" cy="133.7" rx="7.6" ry="6.5" fill="#000"/>
<ellipse cx="789.7" cy="156.3" rx="6.5" ry="5.4" fill="#fff" stroke="#000" stroke-width="1.8"/>
<line x1="533.6" y1="54.3" x2="533.6" y2="440.4" stroke="#000" stroke-width="2.2"/>
<line x1="526.8" y1="390.502" x2="533.6" y2="390.502" stroke="#000" stroke-width="1.8"/>
<line x1="526.8" y1="368.626" x2="533.6" y2="368.626" stroke="#000" stroke-width="1.8"/>
<line x1="526.8" y1="353.104" x2="533.6" y2="353.104" stroke="#000" stroke-width="1.8"/>
<line x1="526.8" y1="341.065" x2="533.6" y2="341.065" stroke="#000" stroke-width="1.8"/>
<line x1="526.8" y1="331.228" x2="533.6" y2="331.228" stroke="#000" stroke-width="1.8"/>
<line x1="526.8" y1="322.911" x2="533.6" y2="322.911" stroke="#000" stroke-width="1.8"/>
<line x1="526.8" y1="315.706" x2="533.6" y2="315.706" stroke="#000" stroke-width="1.8"/>
<line x1="526.8" y1="309.351" x2="533.6" y2="309.351" stroke="#000" stroke-width="1.8"/>
<line x1="520.8" y1="303.667" x2="533.6" y2="303.667" stroke="#000" stroke-width="1.8"/>
<line x1="526.8" y1="266.269" x2="533.6" y2="266.269" stroke="#000" stroke-width="1.8"/>
<line x1="526.8" y1="244.392" x2="533.6" y2="244.392" stroke="#000" stroke-width="1.8"/>
<line x1="526.8" y1="228.871" x2="533.6" y2="228.871" stroke="#000" stroke-width="1.8"/>
<line x1="526.8" y1="216.831" x2="533.6" y2="216.831" stroke="#000" stroke-width="1.8"/>
<line x1="526.8" y1="206.994" x2="533.6" y2="206.994" stroke="#000" stroke-width="1.8"/>
<line x1="526.8" y1="198.677" x2="533.6" y2="198.677" stroke="#000" stroke-width="1.8"/>
<line x1="526.8" y1="191.473" x2="533.6" y2="191.473" stroke="#000" stroke-width="1.8"/>
<line x1="526.8" y1="185.118" x2="533.6" y2="185.118" stroke="#000" stroke-width="1.8"/>
<line x1="520.8" y1="179.433" x2="533.6" y2="179.433" stroke="#000" stroke-width="1.8"/>
<line x1="526.8" y1="142.035" x2="533.6" y2="142.035" stroke="#000" stroke-width="1.8"/>
<line x1="526.8" y1="120.159" x2="533.6" y2="120.159" stroke="#000" stroke-width="1.8"/>
<line x1="526.8" y1="104.637" x2="533.6" y2="104.637" stroke="#000" stroke-width="1.8"/>
<line x1="526.8" y1="92.598" x2="533.6" y2="92.598" stroke="#000" stroke-width="1.8"/>
<line x1="526.8" y1="82.761" x2="533.6" y2="82.761" stroke="#000" stroke-width="1.8"/>
<line x1="526.8" y1="74.444" x2="533.6" y2="74.444" stroke="#000" stroke-width="1.8"/>
<line x1="526.8" y1="67.239" x2="533.6" y2="67.239" stroke="#000" stroke-width="1.8"/>
<line x1="526.8" y1="60.885" x2="533.6" y2="60.885" stroke="#000" stroke-width="1.8"/>
<line x1="520.6" y1="55.2" x2="534.6" y2="55.2" stroke="#000" stroke-width="1.8"/>
<line x1="521.1" y1="427.9" x2="810" y2="427.9" stroke="#000" stroke-width="1.8"/>
<line x1="610.573" y1="427.9" x2="610.573" y2="435.4" stroke="#000" stroke-width="2.2"/>
<line x1="655.6" y1="427.9" x2="655.6" y2="435.4" stroke="#000" stroke-width="2.2"/>
<line x1="687.547" y1="427.9" x2="687.547" y2="435.4" stroke="#000" stroke-width="2.2"/>
<line x1="712.327" y1="427.9" x2="712.327" y2="435.4" stroke="#000" stroke-width="2.2"/>
<line x1="732.573" y1="427.9" x2="732.573" y2="435.4" stroke="#000" stroke-width="2.2"/>
<line x1="749.692" y1="427.9" x2="749.692" y2="435.4" stroke="#000" stroke-width="2.2"/>
<line x1="764.52" y1="427.9" x2="764.52" y2="435.4" stroke="#000" stroke-width="2.2"/>
<line x1="777.6" y1="427.9" x2="777.6" y2="435.4" stroke="#000" stroke-width="2.2"/>
<line x1="789.3" y1="427.9" x2="789.3" y2="440.4" stroke="#000" stroke-width="2.2"/>
<text transform="translate(435.477 530.6) scale(1.15 1)" font-size="19.8" font-weight="normal">(E)</text>
<text transform="translate(524.877 535.2) scale(1.166 1)" font-size="19.8" font-weight="bold">Orientation Discrimination</text>
<text transform="translate(467 829.574) rotate(-90) scale(1 1.15)" font-size="17.2">Contrast Sensitivity</text>
<text transform="translate(571.034 1001.6) scale(1.132 1)" font-size="17" font-weight="normal">Spatial Frequency [cpd]</text>
<rect x="559.4" y="908.8" width="43.8" height="11.7" fill="#c4c4c4" stroke="#000" stroke-width="1.6"/>
<text transform="translate(611.765 919.2) scale(1.123 1)" font-size="15.4" font-weight="normal">controls (n = 4)</text>
<text transform="translate(502.282 943.3) scale(1.13 1)" font-size="16.7" font-weight="normal"><tspan class="h">1</tspan></text>
<path d="M0.356 0 L0.356 0.716 L0.297 0.716 C0.272 0.655 0.205 0.602 0.109 0.577 L0.109 0.497 C0.175 0.512 0.232 0.545 0.266 0.582 L0.266 0 Z" transform="translate(502.282 943.3) scale(18.871 -16.700)"/>
<text transform="translate(490.461 819.2) scale(1.13 1)" font-size="16.7" font-weight="normal"><tspan class="h">1</tspan>0</text>
<path d="M0.356 0 L0.356 0.716 L0.297 0.716 C0.272 0.655 0.205 0.602 0.109 0.577 L0.109 0.497 C0.175 0.512 0.232 0.545 0.266 0.582 L0.266 0 Z" transform="translate(490.461 819.2) scale(18.871 -16.700)"/>
<text transform="translate(479.24 695) scale(1.13 1)" font-size="16.7" font-weight="normal"><tspan class="h">1</tspan>00</text>
<path d="M0.356 0 L0.356 0.716 L0.297 0.716 C0.272 0.655 0.205 0.602 0.109 0.577 L0.109 0.497 C0.175 0.512 0.232 0.545 0.266 0.582 L0.266 0 Z" transform="translate(479.24 695) scale(18.871 -16.700)"/>
<text transform="translate(467.867 571.4) scale(1.13 1)" font-size="16.7" font-weight="normal"><tspan class="h">1</tspan>000</text>
<path d="M0.356 0 L0.356 0.716 L0.297 0.716 C0.272 0.655 0.205 0.602 0.109 0.577 L0.109 0.497 C0.175 0.512 0.232 0.545 0.266 0.582 L0.266 0 Z" transform="translate(467.867 571.4) scale(18.871 -16.700)"/>
<text transform="translate(525.694 970.8) scale(1.13 1)" font-size="16.7" font-weight="normal">0.<tspan class="h">1</tspan></text>
<path d="M0.356 0 L0.356 0.716 L0.297 0.716 C0.272 0.655 0.205 0.602 0.109 0.577 L0.109 0.497 C0.175 0.512 0.232 0.545 0.266 0.582 L0.266 0 Z" transform="translate(541.433 970.8) scale(18.871 -16.700)"/>
<text transform="translate(599.562 970.8) scale(1.13 1)" font-size="16.7" font-weight="normal">0.2</text>
<text transform="translate(700.902 973.2) scale(1.13 1)" font-size="16.7" font-weight="normal">0.5</text>
<text transform="translate(781.912 973.2) scale(1.13 1)" font-size="16.7" font-weight="normal"><tspan class="h">1</tspan></text>
<path d="M0.356 0 L0.356 0.716 L0.297 0.716 C0.272 0.655 0.205 0.602 0.109 0.577 L0.109 0.497 C0.175 0.512 0.232 0.545 0.266 0.582 L0.266 0 Z" transform="translate(781.912 973.2) scale(18.871 -16.700)"/>
<polygon points="591.4,656 743.8,575 745.5,678 719.7,680 594.4,727" fill="#c4c4c4" stroke="none" stroke-width="0"/>
<polyline points="583.3,718.2 656.6,650.8 727.1,613" fill="none" stroke="#222" stroke-width="1" stroke-linejoin="round"/>
<polyline points="601.3,705 676.3,650.5 739.4,603.2" fill="none" stroke="#222" stroke-width="1" stroke-linejoin="round"/>
<line x1="583.3" y1="702.7" x2="583.3" y2="737.1" stroke="#000" stroke-width="2"/>
<line x1="574.3" y1="702.7" x2="595.6" y2="702.7" stroke="#000" stroke-width="1.8"/>
<line x1="575.2" y1="737.1" x2="597.3" y2="737.1" stroke="#000" stroke-width="1.8"/>
<line x1="601.3" y1="693.3" x2="601.3" y2="723.6" stroke="#000" stroke-width="2"/>
<line x1="590.7" y1="693.3" x2="612.1" y2="693.3" stroke="#000" stroke-width="1.8"/>
<line x1="592" y1="723.6" x2="614" y2="723.6" stroke="#000" stroke-width="1.8"/>
<line x1="656.6" y1="640.5" x2="656.6" y2="662.6" stroke="#000" stroke-width="2"/>
<line x1="647.4" y1="640.5" x2="670.2" y2="640.5" stroke="#000" stroke-width="1.8"/>
<line x1="648.5" y1="662.6" x2="670.6" y2="662.6" stroke="#000" stroke-width="1.8"/>
<line x1="676.3" y1="633.6" x2="676.3" y2="689.6" stroke="#000" stroke-width="2"/>
<line x1="664.3" y1="633.6" x2="685" y2="633.6" stroke="#000" stroke-width="1.8"/>
<line x1="665.8" y1="689.6" x2="686" y2="689.6" stroke="#000" stroke-width="1.8"/>
<line x1="727.1" y1="599" x2="727.1" y2="635.8" stroke="#000" stroke-width="2"/>
<line x1="717.2" y1="599" x2="738.1" y2="599" stroke="#000" stroke-width="1.8"/>
<line x1="717.7" y1="635.8" x2="740.6" y2="635.8" stroke="#000" stroke-width="1.8"/>
<line x1="739.4" y1="595.8" x2="739.4" y2="615.5" stroke="#000" stroke-width="2"/>
<line x1="729.5" y1="595.8" x2="751.2" y2="595.8" stroke="#000" stroke-width="1.8"/>
<line x1="730.8" y1="615.5" x2="752.1" y2="615.5" stroke="#000" stroke-width="1.8"/>
<ellipse cx="583.3" cy="718.2" rx="7.3" ry="6.5" fill="#000"/>
<ellipse cx="656.6" cy="650.8" rx="7.35" ry="6.45" fill="#000"/>
<ellipse cx="727.1" cy="613" rx="7.35" ry="6.45" fill="#000"/>
<ellipse cx="601.3" cy="707.6" rx="5.4" ry="4.9" fill="#fff" stroke="#000" stroke-width="1.8"/>
<ellipse cx="676.3" cy="651.8" rx="5.4" ry="4.9" fill="#fff" stroke="#000" stroke-width="1.8"/>
<ellipse cx="739.4" cy="603.2" rx="5.4" ry="4.9" fill="#fff" stroke="#000" stroke-width="1.8"/>
<line x1="533.3" y1="563.3" x2="533.3" y2="949.3" stroke="#000" stroke-width="2.2"/>
<line x1="526.5" y1="899.412" x2="533.3" y2="899.412" stroke="#000" stroke-width="1.8"/>
<line x1="526.5" y1="877.542" x2="533.3" y2="877.542" stroke="#000" stroke-width="1.8"/>
<line x1="526.5" y1="862.024" x2="533.3" y2="862.024" stroke="#000" stroke-width="1.8"/>
<line x1="526.5" y1="849.988" x2="533.3" y2="849.988" stroke="#000" stroke-width="1.8"/>
<line x1="526.5" y1="840.154" x2="533.3" y2="840.154" stroke="#000" stroke-width="1.8"/>
<line x1="526.5" y1="831.839" x2="533.3" y2="831.839" stroke="#000" stroke-width="1.8"/>
<line x1="526.5" y1="824.636" x2="533.3" y2="824.636" stroke="#000" stroke-width="1.8"/>
<line x1="526.5" y1="818.283" x2="533.3" y2="818.283" stroke="#000" stroke-width="1.8"/>
<line x1="520.5" y1="812.6" x2="533.3" y2="812.6" stroke="#000" stroke-width="1.8"/>
<line x1="526.5" y1="775.212" x2="533.3" y2="775.212" stroke="#000" stroke-width="1.8"/>
<line x1="526.5" y1="753.342" x2="533.3" y2="753.342" stroke="#000" stroke-width="1.8"/>
<line x1="526.5" y1="737.824" x2="533.3" y2="737.824" stroke="#000" stroke-width="1.8"/>
<line x1="526.5" y1="725.788" x2="533.3" y2="725.788" stroke="#000" stroke-width="1.8"/>
<line x1="526.5" y1="715.954" x2="533.3" y2="715.954" stroke="#000" stroke-width="1.8"/>
<line x1="526.5" y1="707.639" x2="533.3" y2="707.639" stroke="#000" stroke-width="1.8"/>
<line x1="526.5" y1="700.436" x2="533.3" y2="700.436" stroke="#000" stroke-width="1.8"/>
<line x1="526.5" y1="694.083" x2="533.3" y2="694.083" stroke="#000" stroke-width="1.8"/>
<line x1="520.5" y1="688.4" x2="533.3" y2="688.4" stroke="#000" stroke-width="1.8"/>
<line x1="526.5" y1="651.012" x2="533.3" y2="651.012" stroke="#000" stroke-width="1.8"/>
<line x1="526.5" y1="629.142" x2="533.3" y2="629.142" stroke="#000" stroke-width="1.8"/>
<line x1="526.5" y1="613.624" x2="533.3" y2="613.624" stroke="#000" stroke-width="1.8"/>
<line x1="526.5" y1="601.588" x2="533.3" y2="601.588" stroke="#000" stroke-width="1.8"/>
<line x1="526.5" y1="591.754" x2="533.3" y2="591.754" stroke="#000" stroke-width="1.8"/>
<line x1="526.5" y1="583.439" x2="533.3" y2="583.439" stroke="#000" stroke-width="1.8"/>
<line x1="526.5" y1="576.236" x2="533.3" y2="576.236" stroke="#000" stroke-width="1.8"/>
<line x1="526.5" y1="569.883" x2="533.3" y2="569.883" stroke="#000" stroke-width="1.8"/>
<line x1="520.3" y1="564.2" x2="534.3" y2="564.2" stroke="#000" stroke-width="1.8"/>
<line x1="520.8" y1="936.8" x2="810.4" y2="936.8" stroke="#000" stroke-width="1.8"/>
<line x1="610.183" y1="936.8" x2="610.183" y2="944.3" stroke="#000" stroke-width="2.2"/>
<line x1="655.157" y1="936.8" x2="655.157" y2="944.3" stroke="#000" stroke-width="2.2"/>
<line x1="687.066" y1="936.8" x2="687.066" y2="944.3" stroke="#000" stroke-width="2.2"/>
<line x1="711.817" y1="936.8" x2="711.817" y2="944.3" stroke="#000" stroke-width="2.2"/>
<line x1="732.04" y1="936.8" x2="732.04" y2="944.3" stroke="#000" stroke-width="2.2"/>
<line x1="749.138" y1="936.8" x2="749.138" y2="944.3" stroke="#000" stroke-width="2.2"/>
<line x1="763.949" y1="936.8" x2="763.949" y2="944.3" stroke="#000" stroke-width="2.2"/>
<line x1="777.014" y1="936.8" x2="777.014" y2="944.3" stroke="#000" stroke-width="2.2"/>
<line x1="788.7" y1="936.8" x2="788.7" y2="949.3" stroke="#000" stroke-width="2.2"/>
<text transform="translate(441.385 1039.7) scale(1.144 1)" font-size="19.8" font-weight="normal">(F)</text>
<text transform="translate(532.108 1040.8) scale(1.18 1)" font-size="19.8" font-weight="bold">Temporal Detection</text>
<text transform="translate(467 1342.225) rotate(-90) scale(1 1.15)" font-size="17.2">Contrast Sensitivity</text>
<text transform="translate(572.86 1512.5) scale(1.149 1)" font-size="17" font-weight="normal">Temporal frequency (Hz)</text>
<rect x="559.4" y="1422.2" width="45.2" height="12.2" fill="#c4c4c4" stroke="#000" stroke-width="1.6"/>
<text transform="translate(612.564 1433.8) scale(1.125 1)" font-size="15.4" font-weight="normal">controls (n = 4)</text>
<text transform="translate(502.582 1456.3) scale(1.13 1)" font-size="16.7" font-weight="normal"><tspan class="h">1</tspan></text>
<path d="M0.356 0 L0.356 0.716 L0.297 0.716 C0.272 0.655 0.205 0.602 0.109 0.577 L0.109 0.497 C0.175 0.512 0.232 0.545 0.266 0.582 L0.266 0 Z" transform="translate(502.582 1456.3) scale(18.871 -16.700)"/>
<text transform="translate(490.761 1332.333) scale(1.13 1)" font-size="16.7" font-weight="normal"><tspan class="h">1</tspan>0</text>
<path d="M0.356 0 L0.356 0.716 L0.297 0.716 C0.272 0.655 0.205 0.602 0.109 0.577 L0.109 0.497 C0.175 0.512 0.232 0.545 0.266 0.582 L0.266 0 Z" transform="translate(490.761 1332.333) scale(18.871 -16.700)"/>
<text transform="translate(479.24 1210.267) scale(1.13 1)" font-size="16.7" font-weight="normal"><tspan class="h">1</tspan>00</text>
<path d="M0.356 0 L0.356 0.716 L0.297 0.716 C0.272 0.655 0.205 0.602 0.109 0.577 L0.109 0.497 C0.175 0.512 0.232 0.545 0.266 0.582 L0.266 0 Z" transform="translate(479.24 1210.267) scale(18.871 -16.700)"/>
<text transform="translate(468.267 1083.7) scale(1.13 1)" font-size="16.7" font-weight="normal"><tspan class="h">1</tspan>000</text>
<path d="M0.356 0 L0.356 0.716 L0.297 0.716 C0.272 0.655 0.205 0.602 0.109 0.577 L0.109 0.497 C0.175 0.512 0.232 0.545 0.266 0.582 L0.266 0 Z" transform="translate(468.267 1083.7) scale(18.871 -16.700)"/>
<polygon points="556,1173.3 661.4,1165.8 778,1170.9 778.5,1212.4 667.8,1205 556,1214.6" fill="#c4c4c4" stroke="none" stroke-width="0"/>
<polyline points="554.8,1165.8 661.8,1154 774.7,1156.5" fill="none" stroke="#000" stroke-width="2" stroke-linejoin="round"/>
<polyline points="555,1209.1 649,1175.3 762.9,1165.1" fill="none" stroke="#000" stroke-width="2" stroke-linejoin="round"/>
<line x1="554.8" y1="1154" x2="554.8" y2="1182.5" stroke="#000" stroke-width="1.4"/>
<line x1="552.3" y1="1154" x2="557.7" y2="1154" stroke="#000" stroke-width="1.5"/>
<line x1="552.3" y1="1182.5" x2="557.7" y2="1182.5" stroke="#000" stroke-width="1.5"/>
<line x1="555" y1="1180.5" x2="555" y2="1329.7" stroke="#000" stroke-width="1.4"/>
<line x1="552.3" y1="1180.5" x2="557.7" y2="1180.5" stroke="#000" stroke-width="1.5"/>
<line x1="552.3" y1="1329.7" x2="557.7" y2="1329.7" stroke="#000" stroke-width="1.5"/>
<line x1="661.8" y1="1142.2" x2="661.8" y2="1170.9" stroke="#000" stroke-width="1.4"/>
<line x1="659.1" y1="1142.2" x2="664.6" y2="1142.2" stroke="#000" stroke-width="1.5"/>
<line x1="659.1" y1="1170.9" x2="664.6" y2="1170.9" stroke="#000" stroke-width="1.5"/>
<line x1="649" y1="1159.5" x2="649" y2="1201.8" stroke="#000" stroke-width="1.4"/>
<line x1="646.3" y1="1159.5" x2="651.7" y2="1159.5" stroke="#000" stroke-width="1.5"/>
<line x1="646.3" y1="1201.8" x2="651.7" y2="1201.8" stroke="#000" stroke-width="1.5"/>
<line x1="762.9" y1="1158.7" x2="762.9" y2="1174.7" stroke="#000" stroke-width="1.4"/>
<line x1="760.2" y1="1158.7" x2="765.6" y2="1158.7" stroke="#000" stroke-width="1.5"/>
<line x1="760.2" y1="1174.7" x2="765.6" y2="1174.7" stroke="#000" stroke-width="1.5"/>
<line x1="774.7" y1="1143.4" x2="774.7" y2="1171.5" stroke="#000" stroke-width="1.4"/>
<line x1="772" y1="1143.4" x2="777.4" y2="1143.4" stroke="#000" stroke-width="1.5"/>
<line x1="772" y1="1171.5" x2="777.4" y2="1171.5" stroke="#000" stroke-width="1.5"/>
<ellipse cx="555" cy="1209.1" rx="5.75" ry="5.4" fill="#000"/>
<ellipse cx="649" cy="1175.3" rx="5.75" ry="5.5" fill="#000"/>
<ellipse cx="762.9" cy="1165.1" rx="5.75" ry="5.5" fill="#000"/>
<ellipse cx="554.8" cy="1165.8" rx="4.9" ry="4.7" fill="#fff" stroke="#000" stroke-width="1.6"/>
<ellipse cx="661.8" cy="1154" rx="4.9" ry="4.7" fill="#fff" stroke="#000" stroke-width="1.6"/>
<ellipse cx="774.7" cy="1154.9" rx="4.9" ry="4.7" fill="#fff" stroke="#000" stroke-width="1.6"/>
<line x1="534.4" y1="1077" x2="534.4" y2="1463" stroke="#000" stroke-width="2.2"/>
<line x1="527.6" y1="1413.562" x2="534.4" y2="1413.562" stroke="#000" stroke-width="1.8"/>
<line x1="527.6" y1="1391.662" x2="534.4" y2="1391.662" stroke="#000" stroke-width="1.8"/>
<line x1="527.6" y1="1376.124" x2="534.4" y2="1376.124" stroke="#000" stroke-width="1.8"/>
<line x1="527.6" y1="1364.071" x2="534.4" y2="1364.071" stroke="#000" stroke-width="1.8"/>
<line x1="527.6" y1="1354.224" x2="534.4" y2="1354.224" stroke="#000" stroke-width="1.8"/>
<line x1="527.6" y1="1345.898" x2="534.4" y2="1345.898" stroke="#000" stroke-width="1.8"/>
<line x1="527.6" y1="1338.686" x2="534.4" y2="1338.686" stroke="#000" stroke-width="1.8"/>
<line x1="527.6" y1="1332.324" x2="534.4" y2="1332.324" stroke="#000" stroke-width="1.8"/>
<line x1="521.6" y1="1326.633" x2="534.4" y2="1326.633" stroke="#000" stroke-width="1.8"/>
<line x1="527.6" y1="1289.195" x2="534.4" y2="1289.195" stroke="#000" stroke-width="1.8"/>
<line x1="527.6" y1="1267.295" x2="534.4" y2="1267.295" stroke="#000" stroke-width="1.8"/>
<line x1="527.6" y1="1251.757" x2="534.4" y2="1251.757" stroke="#000" stroke-width="1.8"/>
<line x1="527.6" y1="1239.705" x2="534.4" y2="1239.705" stroke="#000" stroke-width="1.8"/>
<line x1="527.6" y1="1229.857" x2="534.4" y2="1229.857" stroke="#000" stroke-width="1.8"/>
<line x1="527.6" y1="1221.531" x2="534.4" y2="1221.531" stroke="#000" stroke-width="1.8"/>
<line x1="527.6" y1="1214.319" x2="534.4" y2="1214.319" stroke="#000" stroke-width="1.8"/>
<line x1="527.6" y1="1207.957" x2="534.4" y2="1207.957" stroke="#000" stroke-width="1.8"/>
<line x1="521.6" y1="1202.267" x2="534.4" y2="1202.267" stroke="#000" stroke-width="1.8"/>
<line x1="527.6" y1="1164.829" x2="534.4" y2="1164.829" stroke="#000" stroke-width="1.8"/>
<line x1="527.6" y1="1142.929" x2="534.4" y2="1142.929" stroke="#000" stroke-width="1.8"/>
<line x1="527.6" y1="1127.39" x2="534.4" y2="1127.39" stroke="#000" stroke-width="1.8"/>
<line x1="527.6" y1="1115.338" x2="534.4" y2="1115.338" stroke="#000" stroke-width="1.8"/>
<line x1="527.6" y1="1105.491" x2="534.4" y2="1105.491" stroke="#000" stroke-width="1.8"/>
<line x1="527.6" y1="1097.165" x2="534.4" y2="1097.165" stroke="#000" stroke-width="1.8"/>
<line x1="527.6" y1="1089.952" x2="534.4" y2="1089.952" stroke="#000" stroke-width="1.8"/>
<line x1="527.6" y1="1083.591" x2="534.4" y2="1083.591" stroke="#000" stroke-width="1.8"/>
<line x1="521.4" y1="1077.9" x2="535.4" y2="1077.9" stroke="#000" stroke-width="1.8"/>
<line x1="518.1" y1="1451" x2="797.2" y2="1451" stroke="#000" stroke-width="1.8"/>
<line x1="551.853" y1="1451" x2="551.853" y2="1460" stroke="#000" stroke-width="2.2"/>
<line x1="569.307" y1="1451" x2="569.307" y2="1460" stroke="#000" stroke-width="2.2"/>
<line x1="586.76" y1="1451" x2="586.76" y2="1460" stroke="#000" stroke-width="2.2"/>
<line x1="604.213" y1="1451" x2="604.213" y2="1460" stroke="#000" stroke-width="2.2"/>
<line x1="621.667" y1="1451" x2="621.667" y2="1463" stroke="#000" stroke-width="2.2"/>
<line x1="639.12" y1="1451" x2="639.12" y2="1460" stroke="#000" stroke-width="2.2"/>
<line x1="656.573" y1="1451" x2="656.573" y2="1460" stroke="#000" stroke-width="2.2"/>
<line x1="674.027" y1="1451" x2="674.027" y2="1460" stroke="#000" stroke-width="2.2"/>
<line x1="691.48" y1="1451" x2="691.48" y2="1460" stroke="#000" stroke-width="2.2"/>
<line x1="708.933" y1="1451" x2="708.933" y2="1463" stroke="#000" stroke-width="2.2"/>
<line x1="726.387" y1="1451" x2="726.387" y2="1460" stroke="#000" stroke-width="2.2"/>
<line x1="743.84" y1="1451" x2="743.84" y2="1460" stroke="#000" stroke-width="2.2"/>
<line x1="761.293" y1="1451" x2="761.293" y2="1460" stroke="#000" stroke-width="2.2"/>
<line x1="778.747" y1="1451" x2="778.747" y2="1460" stroke="#000" stroke-width="2.2"/>
<line x1="796.2" y1="1451" x2="796.2" y2="1463" stroke="#000" stroke-width="2.2"/>
<text transform="translate(525.363 1485.9) scale(1.13 1)" font-size="16.7" font-weight="normal">5</text>
<text transform="translate(607.852 1486) scale(1.13 1)" font-size="16.7" font-weight="normal"><tspan class="h">1</tspan>0</text>
<path d="M0.356 0 L0.356 0.716 L0.297 0.716 C0.272 0.655 0.205 0.602 0.109 0.577 L0.109 0.497 C0.175 0.512 0.232 0.545 0.266 0.582 L0.266 0 Z" transform="translate(607.852 1486) scale(18.871 -16.700)"/>
<text transform="translate(699.676 1483.6) scale(1.13 1)" font-size="16.7" font-weight="normal"><tspan class="h">1</tspan>5</text>
<path d="M0.356 0 L0.356 0.716 L0.297 0.716 C0.272 0.655 0.205 0.602 0.109 0.577 L0.109 0.497 C0.175 0.512 0.232 0.545 0.266 0.582 L0.266 0 Z" transform="translate(699.676 1483.6) scale(18.871 -16.700)"/>
<text transform="translate(783.909 1485) scale(1.13 1)" font-size="16.7" font-weight="normal">20</text>
</svg>
</body></html>
